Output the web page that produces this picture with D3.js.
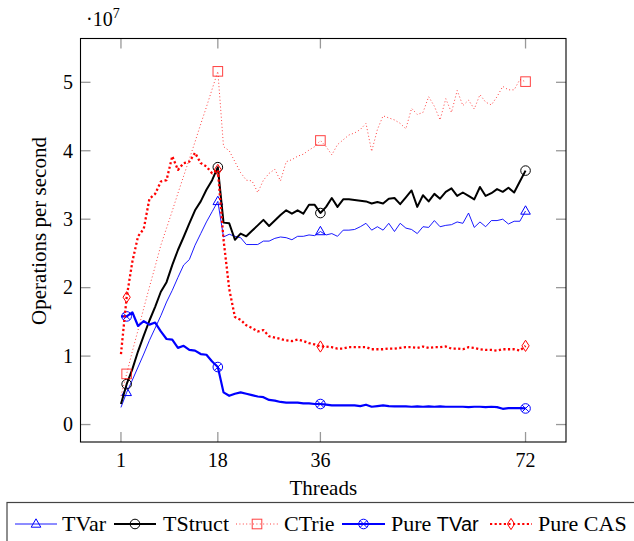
<!DOCTYPE html>
<html>
<head>
<meta charset="utf-8">
<script src="https://cdn.jsdelivr.net/npm/d3@7"></script>
<style>
  html, body { margin: 0; padding: 0; background: #fff; }
  svg { display: block; }
  text { font-family: "Liberation Serif", "DejaVu Serif", serif; fill: #000; }
</style>
</head>
<body>
<svg id="chart" width="634" height="541"></svg>
<script>
// ---------------- data (values in units of 10^7 operations per second) ----------------
const threads = [1,2,3,4,5,6,7,8,9,10,11,12,13,14,15,16,17,18,19,20,21,22,23,24,25,26,27,28,29,30,31,32,33,34,35,36,
  37,38,39,40,41,42,43,44,45,46,47,48,49,50,51,52,53,54,55,56,57,58,59,60,61,62,63,64,65,66,67,68,69,70,71,72];

const tvar = [0.25,0.47,0.65,0.84,1.03,1.23,1.41,1.59,1.79,1.96,2.15,2.33,2.41,2.62,2.79,2.96,3.11,3.26,
  2.74,2.78,2.75,2.73,2.63,2.63,2.63,2.68,2.68,2.72,2.74,2.73,2.70,2.75,2.75,2.77,2.76,2.82,
  2.77,2.79,2.75,2.84,2.84,2.85,2.89,2.94,2.84,2.89,2.84,2.94,2.82,2.94,2.87,2.85,2.79,2.89,
  2.88,2.98,2.89,2.91,2.92,2.96,2.94,3.09,2.88,2.96,2.89,2.98,2.98,3.00,2.93,2.97,2.97,3.12];

const tstruct = [0.30,0.59,0.81,1.07,1.30,1.52,1.72,1.94,2.08,2.33,2.55,2.74,2.94,3.13,3.26,3.43,3.57,3.76,
  2.95,2.94,2.70,2.79,2.75,2.83,2.91,2.99,2.90,2.98,3.06,3.13,3.08,3.13,3.08,3.21,3.21,3.09,
  3.18,3.31,3.18,3.29,3.29,3.28,3.27,3.26,3.23,3.25,3.23,3.30,3.31,3.22,3.32,3.42,3.18,3.35,
  3.26,3.37,3.30,3.40,3.45,3.34,3.39,3.34,3.29,3.47,3.34,3.38,3.44,3.40,3.46,3.39,3.55,3.71];

const ctrie = [0.42,0.74,1.07,1.38,1.70,2.01,2.31,2.62,2.87,3.12,3.38,3.63,3.88,4.13,4.39,4.64,4.90,5.16,
  4.06,4.00,3.84,3.68,3.57,3.56,3.39,3.57,3.67,3.73,3.56,3.84,3.87,3.92,3.95,4.01,4.06,4.15,
  4.06,3.94,4.09,4.16,4.23,4.26,4.31,4.40,3.99,4.31,4.51,4.48,4.45,4.40,4.32,4.62,4.53,4.56,
  4.79,4.65,4.45,4.76,4.56,4.88,4.66,4.74,4.61,4.82,4.71,4.67,4.79,4.94,4.89,4.89,5.04,5.01];

const pureTvar = [1.58,1.58,1.64,1.44,1.51,1.46,1.49,1.36,1.25,1.24,1.12,1.15,1.09,1.08,1.03,1.02,0.92,0.84,
  0.47,0.42,0.45,0.47,0.45,0.43,0.41,0.40,0.36,0.35,0.33,0.32,0.32,0.32,0.31,0.31,0.30,0.30,
  0.29,0.28,0.28,0.28,0.28,0.28,0.27,0.29,0.26,0.27,0.28,0.27,0.265,0.265,0.265,0.26,0.265,0.26,
  0.265,0.26,0.265,0.26,0.26,0.26,0.26,0.255,0.26,0.26,0.255,0.26,0.255,0.23,0.24,0.24,0.24,0.235];

const pureCas = [1.03,1.86,2.38,2.75,2.86,3.30,3.37,3.55,3.57,3.92,3.72,3.82,3.84,3.97,3.82,3.77,3.67,3.72,
  2.70,1.98,1.57,1.53,1.45,1.41,1.36,1.38,1.29,1.27,1.25,1.23,1.22,1.24,1.22,1.19,1.17,1.14,
  1.14,1.13,1.11,1.11,1.13,1.13,1.13,1.13,1.10,1.10,1.10,1.11,1.11,1.12,1.13,1.13,1.12,1.14,
  1.12,1.13,1.13,1.14,1.11,1.11,1.10,1.13,1.12,1.10,1.09,1.09,1.08,1.10,1.10,1.10,1.08,1.15];

const xTicks = [1, 18, 36, 72];
const yTicks = [0, 1, 2, 3, 4, 5];
const markThreads = [2, 18, 36, 72];
const seriesNames = ["TVar", "TStruct", "CTrie", "Pure TVar", "Pure CAS"];
const xLabel = "Threads";
const yLabel = "Operations per second";

// ---------------- layout ----------------
const svg = d3.select("#chart");
const box = { left: 80.5, right: 566, top: 38.5, bottom: 442 };
const x = d3.scaleLinear().domain([-6.1, 79.1]).range([box.left, box.right]);
const y = d3.scaleLinear().domain([-0.255, 5.64]).range([box.bottom, box.top]);

const styles = [
  { name: seriesNames[0], data: tvar, color: "#0000ff", width: 0.9, dash: null, opacity: 1, marker: "triangle" },
  { name: seriesNames[1], data: tstruct, color: "#000000", width: 2, dash: null, opacity: 1, marker: "circle" },
  { name: seriesNames[2], data: ctrie, color: "#ff0000", width: 1, dash: "1,2.4", opacity: 0.75, marker: "square" },
  { name: seriesNames[3], data: pureTvar, color: "#0000ff", width: 2.2, dash: null, opacity: 1, marker: "otimes" },
  { name: seriesNames[4], data: pureCas, color: "#ff0000", width: 2.3, dash: "2.2,2.4", opacity: 1, marker: "diamond" }
];

function drawMarker(g, type, cx, cy, color, opacity) {
  const m = g.append("g").attr("transform", `translate(${cx},${cy})`)
    .attr("fill", "none").attr("stroke", color).attr("stroke-width", 1).attr("opacity", opacity);
  if (type === "triangle") {
    m.append("path").attr("d", "M0,-5.2 L4.8,3.2 L-4.8,3.2 Z");
  } else if (type === "circle") {
    m.append("circle").attr("r", 4.8);
  } else if (type === "square") {
    m.append("rect").attr("x", -4.8).attr("y", -4.8).attr("width", 9.6).attr("height", 9.6);
  } else if (type === "otimes") {
    m.append("circle").attr("r", 4.8);
    m.append("path").attr("d", "M-3.4,-3.4 L3.4,3.4 M-3.4,3.4 L3.4,-3.4");
  } else if (type === "diamond") {
    m.append("path").attr("d", "M0,-5.6 L3.6,0 L0,5.6 L-3.6,0 Z");
  }
}

// ---------------- ticks (inside, gray, both sides) ----------------
const tickLen = 10;
const tickG = svg.append("g").attr("stroke", "#999").attr("stroke-width", 1.3);
xTicks.forEach(t => {
  tickG.append("line").attr("x1", x(t)).attr("x2", x(t)).attr("y1", box.bottom).attr("y2", box.bottom - tickLen);
  tickG.append("line").attr("x1", x(t)).attr("x2", x(t)).attr("y1", box.top).attr("y2", box.top + tickLen);
});
yTicks.forEach(t => {
  tickG.append("line").attr("x1", box.left).attr("x2", box.left + tickLen).attr("y1", y(t)).attr("y2", y(t));
  tickG.append("line").attr("x1", box.right).attr("x2", box.right - tickLen).attr("y1", y(t)).attr("y2", y(t));
});

// ---------------- series ----------------
const line = d3.line().x(d => x(d[0])).y(d => y(d[1]));
styles.forEach(s => {
  const pts = threads.map((t, i) => [t, s.data[i]]);
  svg.append("path").datum(pts)
    .attr("d", line)
    .attr("fill", "none")
    .attr("stroke", s.color)
    .attr("stroke-width", s.width)
    .attr("stroke-linejoin", "round")
    .attr("stroke-dasharray", s.dash)
    .attr("opacity", s.opacity);
  const mg = svg.append("g");
  markThreads.forEach(t => {
    const i = threads.indexOf(t);
    drawMarker(mg, s.marker, x(t), y(s.data[i]), s.color, s.opacity);
  });
});

// ---------------- frame ----------------
svg.append("rect")
  .attr("x", box.left).attr("y", box.top)
  .attr("width", box.right - box.left).attr("height", box.bottom - box.top)
  .attr("fill", "none").attr("stroke", "#000").attr("stroke-width", 1.1);

// ---------------- tick labels ----------------
xTicks.forEach(t => {
  svg.append("text").attr("x", x(t)).attr("y", 467)
    .attr("text-anchor", "middle").attr("font-size", 20).text(t);
});
yTicks.forEach(t => {
  svg.append("text").attr("x", 73).attr("y", y(t) + 6.8)
    .attr("text-anchor", "end").attr("font-size", 20).text(t);
});

// exponent label
const expT = svg.append("text").attr("x", 86).attr("y", 26).attr("font-size", 20);
expT.append("tspan").text("·10");
expT.append("tspan").attr("font-size", 14).attr("dy", -8).text("7");

// axis labels
svg.append("text").attr("x", (box.left + box.right) / 2).attr("y", 495)
  .attr("text-anchor", "middle").attr("font-size", 21).text(xLabel);
svg.append("text")
  .attr("transform", `translate(46,231) rotate(-90)`)
  .attr("text-anchor", "middle").attr("font-size", 21).text(yLabel);

// ---------------- legend ----------------
svg.append("rect").attr("x", 7).attr("y", 502.5).attr("width", 700).attr("height", 80)
  .attr("fill", "#fff").attr("stroke", "#444").attr("stroke-width", 1.2);

const legendItems = [
  { x1: 15, x2: 57, tx: 62 },
  { x1: 114, x2: 156, tx: 163 },
  { x1: 236, x2: 278, tx: 284 },
  { x1: 342, x2: 385, tx: 391 },
  { x1: 490, x2: 532, tx: 538 }
];
const ly = 524;
styles.forEach((s, i) => {
  const it = legendItems[i];
  svg.append("line").attr("x1", it.x1).attr("x2", it.x2).attr("y1", ly).attr("y2", ly)
    .attr("stroke", s.color).attr("stroke-width", Math.min(s.width, 2))
    .attr("stroke-dasharray", s.dash).attr("opacity", s.opacity);
  const mg = svg.append("g");
  drawMarker(mg, s.marker, (it.x1 + it.x2) / 2, ly, s.color, s.opacity);
  const t = svg.append("text").attr("x", it.tx).attr("y", 531).attr("font-size", 22);
  if (s.name === "Pure TVar") {
    t.append("tspan").text("Pure ");
    t.append("tspan").attr("font-family", "'Liberation Sans', 'DejaVu Sans', sans-serif").attr("font-size", 20).text("TVar");
  } else {
    t.text(s.name);
  }
});
</script>
</body>
</html>
